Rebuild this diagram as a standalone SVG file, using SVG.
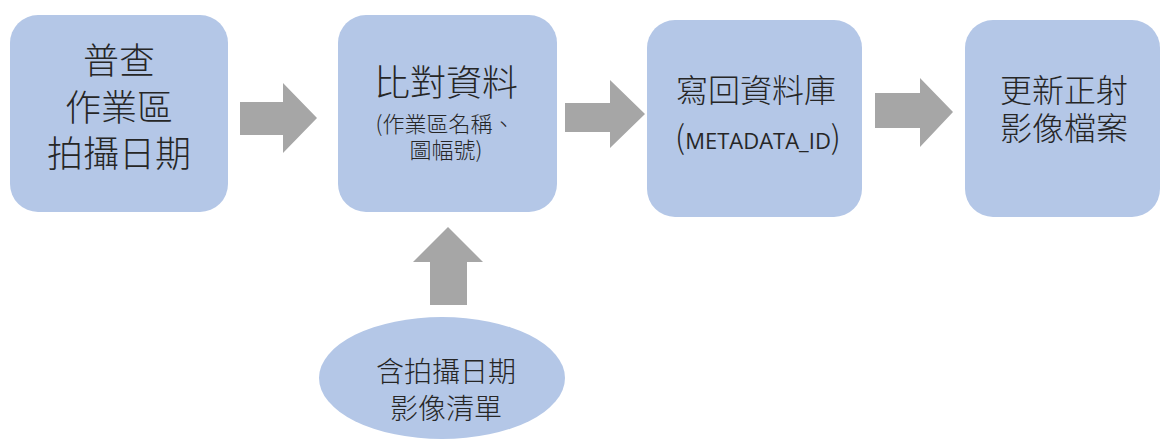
<svg xmlns="http://www.w3.org/2000/svg" width="1168" height="444" viewBox="0 0 1168 444">
<style>
.box{fill:#B4C7E7;}
.arr{fill:#A6A6A6;}
text{font-family:"Noto Sans CJK TC","Noto Sans",sans-serif;fill:#262626;text-anchor:middle;font-weight:300;}
.big{font-size:36px;}
.mid{font-size:32px;}
.sm{font-size:22px;}
.el{font-size:28px;}
.lat{font-family:"Open Sans","Noto Sans CJK TC",sans-serif;font-size:22px;font-weight:400;}
.par{font-family:"Noto Sans CJK TC",sans-serif;font-size:32px;font-weight:300;}
</style>
<rect width="1168" height="444" fill="#FFFFFF"/>
<g id="connectors">
<polygon class="arr" points="240,102 283,102 283,83 317,118 283,153 283,135 240,135"/>
<polygon class="arr" points="565,103 610,103 610,80 645,114 610,148 610,132 565,132"/>
<polygon class="arr" points="875,93 920,93 920,78 953,112 920,147 920,128 875,128"/>
<polygon class="arr" points="430,305 430,262 413,262 448,227 483,262 467,262 467,305"/>
</g>
<g id="node1">
<rect class="box" x="10" y="15" width="218" height="197" rx="28"/>
<text class="big"><tspan x="119" y="74">普查</tspan><tspan x="119" y="121">作業區</tspan><tspan x="119" y="167">拍攝日期</tspan></text>
</g>
<g id="node2">
<rect class="box" x="338" y="15" width="219" height="197" rx="28"/>
<text x="446"><tspan class="big" x="446" y="96">比對資料</tspan><tspan class="sm" x="445" y="132">(作業區名稱、</tspan><tspan class="sm" x="446" y="158">圖幅號)</tspan></text>
</g>
<g id="node3">
<rect class="box" x="647" y="20" width="215" height="197" rx="28"/>
<text class="mid"><tspan x="756" y="102">寫回資料庫</tspan><tspan class="par" x="758" y="149">(</tspan><tspan class="lat">METADATA_ID</tspan><tspan class="par">)</tspan></text>
</g>
<g id="node4">
<rect class="box" x="965" y="20" width="195" height="197" rx="28"/>
<text class="mid"><tspan x="1064" y="102">更新正射</tspan><tspan x="1064" y="140">影像檔案</tspan></text>
</g>
<g id="node5">
<ellipse class="box" cx="442" cy="378" rx="123" ry="61"/>
<text class="el"><tspan x="446" y="382">含拍攝日期</tspan><tspan x="446" y="419">影像清單</tspan></text>
</g>
</svg>
